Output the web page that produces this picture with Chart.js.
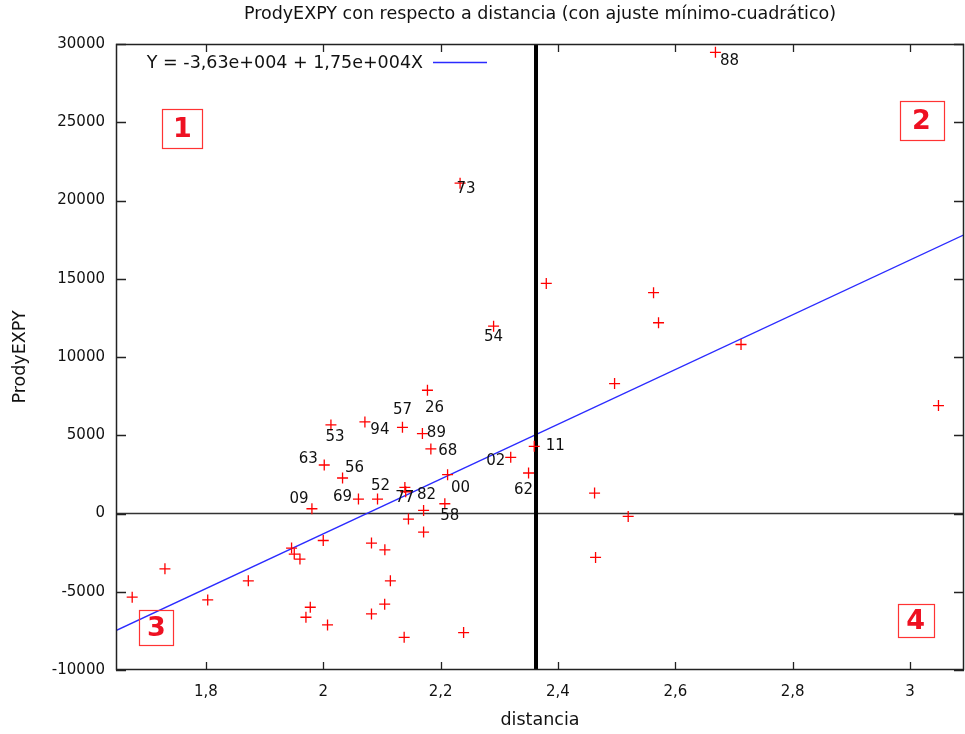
<!DOCTYPE html>
<html><head><meta charset="utf-8">
<script src="https://cdn.jsdelivr.net/npm/chart.js@4/dist/chart.umd.min.js"></script>
<style>html,body{margin:0;padding:0;background:#fff;overflow:hidden}#wrap{width:965px;height:734px;position:relative}canvas{display:block}</style>
</head><body><div id="wrap"><canvas id="c"></canvas></div>
<script>
// ---- data ----
const distancia = [1.6744,1.7302,1.8031,1.8723,1.9460,1.9506,1.9603,1.9705,1.9779,1.9807,2.0000,2.0017,2.0073,2.0131,2.0329,2.0600,2.0710,2.0822,2.0822,2.0925,2.1047,2.1050,2.1144,2.1350,2.1379,2.1391,2.1405,2.1452,2.1690,2.1710,2.1710,2.1776,2.1834,2.2072,2.2119,2.2332,2.2392,2.2903,2.3195,2.3499,2.3596,2.3801,2.4624,2.4641,2.4965,2.5197,2.5629,2.5714,2.6684,2.7120,3.0485];
const prodyExpy = [-5349,-3536,-5520,-4304,-2211,-2595,-2915,-6629,-5989,304,-1725,3100,-7120,5661,2268,924,5853,-1891,-6416,924,-5797,-2320,-4304,5507,-7909,1667,1390,-357,5104,196,-1190,7875,4124,624,2480,21104,-7611,11971,3588,2588,4292,14704,1308,-2808,8304,-187,14108,12188,29468,10800,6896];
const pointLabels = ['','','','','','','','','','09','','63','','53','56','69','94','','','52','','','','57','','77','','','89','82','','26','68','58','00','73','','54','02','62','11','','','','','','','','88','',''];
const xTickValues = [1.8,2.0,2.2,2.4,2.6,2.8,3.0];
const yTickValues = [-10000,-5000,0,5000,10000,15000,20000,25000,30000];
const xRange = [1.6468, 3.092];
const yRange = [-10000, 30000];
const fitX = [1.6468, 3.092];
const fitY = [-7480, 17810];
const splitX = [2.3626, 2.3626];
const splitY = [-10000, 30000];
const zeroX = [1.6468, 3.092];
const zeroY = [0, 0];
const quadrantNames = ['1','2','3','4'];
const quadrantX = [1.760, 3.0196, 1.7157, 3.0094];
const quadrantY = [24600, 25100, -7300, -6850];
const legendText = 'Y = -3,63e+004 + 1,75e+004X';
const titleText = 'ProdyEXPY con respecto a distancia (con ajuste mínimo-cuadrático)';

// ---- layout / style (kept apart from data) ----
const labelOffsets = {'09':[-13,-10],'63':[-16,-6],'53':[4,12],'56':[12,-10],'69':[-16,-2],'94':[15,8],'52':[3,-13],'57':[0,-17],'77':[0,11],'89':[14,-1],'82':[3,-15],'26':[7,18],'68':[17,2],'58':[5,12],'00':[13,13],'73':[6,6],'54':[0,11],'02':[-15,4],'62':[-5,17],'11':[21,0],'88':[14,9]};
const quadrantBox = {'1':[40,39],'2':[44,39],'3':[34,35],'4':[36,33]};
const FONT = "'DejaVu Sans', Verdana, sans-serif";
const TEXT_SIZE = 17.5;
Chart.defaults.font.family = FONT;
Chart.defaults.font.size = 15;
Chart.defaults.color = '#000';

const toXY = (xs, ys) => xs.map((x, i) => ({x: x, y: ys[i]}));
const fmt = v => String(v).replace('.', ',');

const gnuplotDecor = {
  id: 'gnuplotDecor',
  afterDatasetsDraw(chart) {
    const ctx = chart.ctx, a = chart.chartArea;
    const xs = chart.scales.x, ys = chart.scales.y;
    ctx.save();
    // point labels
    ctx.font = '15px ' + FONT;
    ctx.fillStyle = '#111';
    ctx.textAlign = 'center';
    ctx.textBaseline = 'middle';
    pointLabels.forEach((t, i) => {
      if (!t) return;
      const o = labelOffsets[t] || [0, 0];
      ctx.fillText(t, xs.getPixelForValue(distancia[i]) + o[0], ys.getPixelForValue(prodyExpy[i]) + o[1]);
    });
    // quadrant boxes
    quadrantNames.forEach((q, i) => {
      const cx = xs.getPixelForValue(quadrantX[i]), cy = ys.getPixelForValue(quadrantY[i]);
      const [w, h] = quadrantBox[q];
      ctx.strokeStyle = '#ff3333';
      ctx.lineWidth = 1.2;
      ctx.strokeRect(Math.round(cx - w / 2) + 0.5, Math.round(cy - h / 2) + 0.5, w, h);
      ctx.fillStyle = '#ee1122';
      ctx.font = 'bold 27px ' + FONT;
      ctx.fillText(q, cx, cy + 1);
    });
    // legend
    ctx.font = TEXT_SIZE + 'px ' + FONT;
    ctx.fillStyle = '#111';
    ctx.textAlign = 'right';
    ctx.fillText(legendText, a.left + 307, a.top + 19);
    ctx.strokeStyle = '#2b2bff';
    ctx.lineWidth = 1.3;
    ctx.beginPath();
    ctx.moveTo(a.left + 317, a.top + 18.5);
    ctx.lineTo(a.left + 371, a.top + 18.5);
    ctx.stroke();
    // inward ticks (mirrored)
    ctx.strokeStyle = '#222';
    ctx.lineWidth = 1.3;
    ctx.beginPath();
    xTickValues.forEach(v => {
      const px = Math.round(xs.getPixelForValue(v)) + 0.5;
      ctx.moveTo(px, a.bottom); ctx.lineTo(px, a.bottom - 8);
      ctx.moveTo(px, a.top); ctx.lineTo(px, a.top + 8);
    });
    yTickValues.forEach(v => {
      const py = Math.round(ys.getPixelForValue(v)) + 0.5;
      ctx.moveTo(a.left, py); ctx.lineTo(a.left + 10, py);
      ctx.moveTo(a.right, py); ctx.lineTo(a.right - 10, py);
    });
    ctx.stroke();
    // border
    ctx.lineWidth = 1.5;
    ctx.strokeStyle = '#222';
    ctx.strokeRect(a.left + 0.5, a.top + 0.5, a.right - a.left - 1, a.bottom - a.top - 1);
    ctx.restore();
  }
};

new Chart(document.getElementById('c'), {
  type: 'scatter',
  data: {
    datasets: [
      {label: 'ProdyEXPY', data: toXY(distancia, prodyExpy), pointStyle: 'cross', pointRadius: 5.5, pointHoverRadius: 5.5,
       borderColor: '#ff0000', backgroundColor: '#ff0000', pointBorderWidth: 1.3, showLine: false, order: 0},
      {label: legendText, type: 'line', data: toXY(fitX, fitY), borderColor: '#2b2bff', borderWidth: 1.3, pointRadius: 0, fill: false, order: 2},
      {label: 'split', type: 'line', data: toXY(splitX, splitY), borderColor: '#000', borderWidth: 4, pointRadius: 0, fill: false, order: 1},
      {label: 'zero', type: 'line', data: toXY(zeroX, zeroY), borderColor: '#333', borderWidth: 1.5, pointRadius: 0, fill: false, order: 3}
    ]
  },
  options: {
    responsive: true,
    maintainAspectRatio: false,
    animation: false,
    layout: {autoPadding: false, padding: {left: 0, right: 1, top: 0, bottom: 0}},
    plugins: {
      legend: {display: false},
      tooltip: {enabled: false},
      title: {display: true, fullSize: false, text: titleText, font: {size: TEXT_SIZE, weight: 'normal'}, color: '#111', padding: {top: 4, bottom: 19}}
    },
    scales: {
      x: {
        type: 'linear', min: xRange[0], max: xRange[1],
        afterBuildTicks: s => { s.ticks = xTickValues.map(v => ({value: v})); },
        afterFit: s => { s.height = 64; s.paddingLeft = 0; s.paddingRight = 0; },
        ticks: {callback: v => fmt(v), padding: 13, color: '#111', maxRotation: 0, includeBounds: false},
        grid: {display: false, drawTicks: false},
        border: {display: false},
        title: {display: true, text: 'distancia', color: '#111', font: {size: TEXT_SIZE}, padding: {top: 0, bottom: 3.5}}
      },
      y: {
        type: 'linear', min: yRange[0], max: yRange[1],
        afterBuildTicks: s => { s.ticks = yTickValues.map(v => ({value: v})); },
        afterFit: s => { s.width = 116; s.paddingTop = 0; s.paddingBottom = 0; },
        ticks: {callback: v => String(v), padding: 11, color: '#111', includeBounds: false},
        grid: {display: false, drawTicks: false},
        border: {display: false},
        title: {display: true, text: 'ProdyEXPY', color: '#111', font: {size: TEXT_SIZE}, padding: {top: 9.5, bottom: 0}}
      }
    }
  },
  plugins: [gnuplotDecor]
});
</script></body></html>
